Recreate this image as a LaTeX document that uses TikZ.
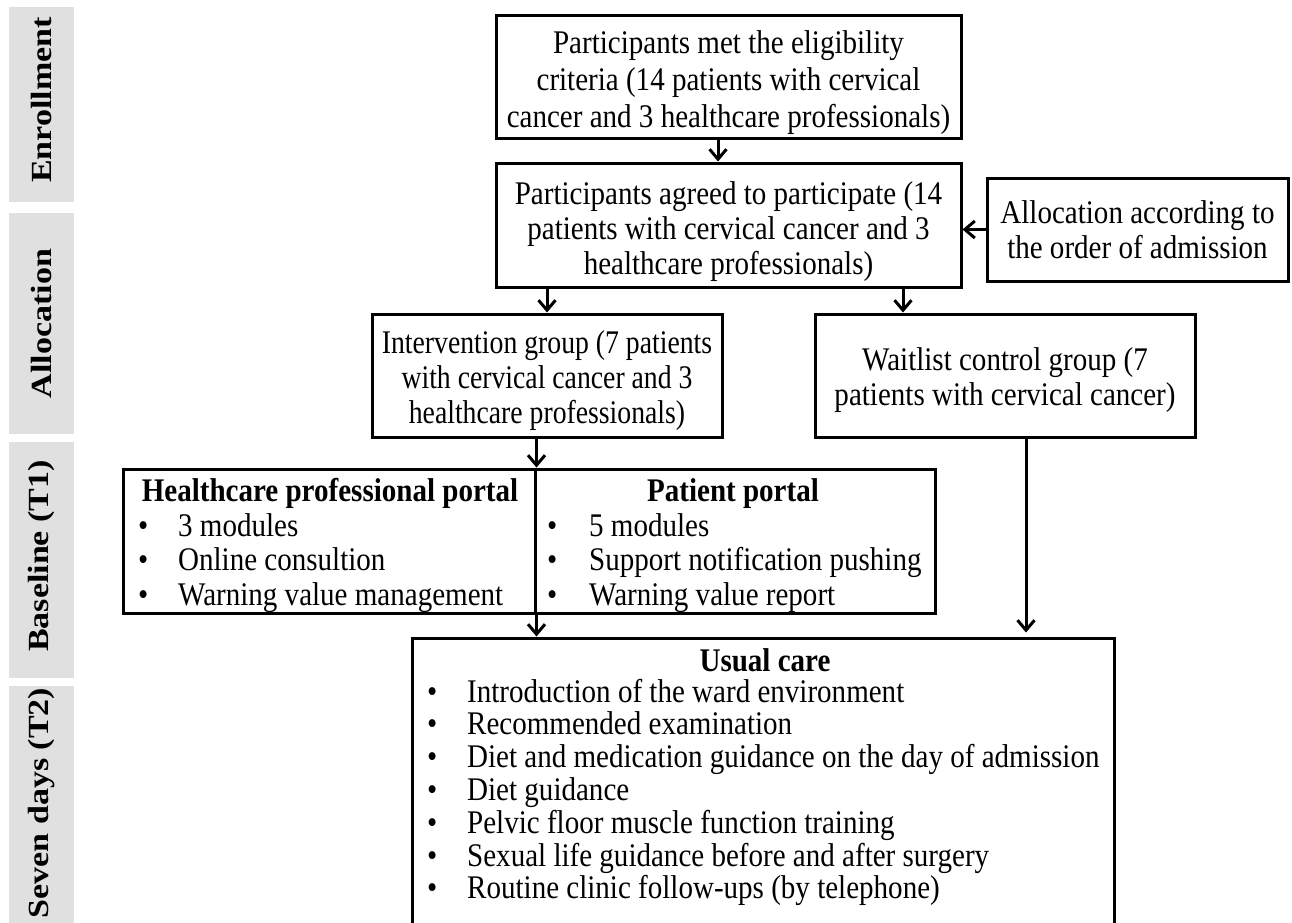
\documentclass[tikz,border=0pt]{standalone}
\usepackage{fontspec}
\usepackage{graphicx}
\setmainfont{Liberation Serif}[FakeStretch=0.88]
\newfontfamily\narrowfont{Liberation Serif}[FakeStretch=0.84]
\newfontfamily\lblfont{Liberation Serif}
\usetikzlibrary{arrows.meta}
\definecolor{bandgray}{RGB}{224,224,224}
\newcommand{\up}[1]{\rule{0pt}{#1}}
\tikzset{
  box/.style={draw, line width=3pt, inner sep=0pt, align=center,
    font=\fontsize{33}{35}\selectfont},
  arr/.style={line width=3pt, -{Straight Barb[length=10pt,width=17pt]}},
  bandlbl/.style={fill=bandgray, draw=none, rotate=90, inner sep=0pt,
    minimum height=65pt, font=\lblfont\bfseries\fontsize{34}{36}\selectfont},
  bandtxt/.style={rotate=90, inner sep=0pt, font=\lblfont\bfseries\fontsize{34}{36}\selectfont},
  txt/.style={font=\fontsize{33}{35}\selectfont, inner sep=0pt, anchor=base west},
  head/.style={font=\bfseries\fontsize{33}{35}\selectfont, inner sep=0pt, anchor=base},
}
\begin{document}
\begin{tikzpicture}[x=1pt,y=-1pt]
\useasboundingbox (0,0) rectangle (1292,922);
\clip (0,0) rectangle (1292,922);
\fill[white] (0,0) rectangle (1292,922);

% phase bands
\node[bandlbl, minimum width=195pt] (b1) at (41.5,104.5) {};
\node[bandlbl, minimum width=221pt] (b2) at (41.5,323.5) {};
\node[bandlbl, minimum width=236pt] (b3) at (41.5,560) {};
\node[bandlbl, minimum width=244pt] (b4) at (41.5,808) {};
\node[bandtxt] (t1) at (41.5,100) {\scalebox{1}[0.86]{Enrollment}};
\node[bandtxt] (t2) at (41.5,323.5) {\scalebox{1}[0.86]{Allocation}};
\node[bandtxt] (t3) at (41.5,556) {\scalebox{1}[0.86]{Baseline (T1)}};
\node[bandtxt] (t4) at (41.5,803) {\scalebox{1}[0.86]{Seven days (T2)}};

% boxes
\node[box, minimum width=465pt, minimum height=123pt, font=\fontsize{33}{37}\selectfont] (top) at (728.5,76.5)
  {\up{36pt}Participants met the eligibility\\criteria (14 patients with cervical\\cancer and 3 healthcare professionals)};
\node[box, minimum width=465pt, minimum height=124pt] (ag) at (728.5,225)
  {\up{36pt}Participants agreed to participate (14\\patients with cervical cancer and 3\\healthcare professionals)};
\node[box, minimum width=301pt, minimum height=103pt] (al) at (1137.5,229.5)
  {Allocation according to\\the order of admission};
\node[box, minimum width=350pt, minimum height=123pt, font=\narrowfont\fontsize{33}{35}\selectfont] (iv) at (547,375.5)
  {\up{33pt}Intervention group (7 patients\\with cervical cancer and 3\\healthcare professionals)};
\node[box, minimum width=380pt, minimum height=123pt] (wl) at (1005,375.5)
  {\up{32pt}Waitlist control group (7\\patients with cervical cancer)};
\node[box, minimum width=412pt, minimum height=144pt] (hpp) at (329,541) {};
\node[box, minimum width=400pt, minimum height=144pt] (pp) at (735,541) {};
\node[box, minimum width=702pt, minimum height=312pt] (uc) at (763,794) {};

% portal texts
\node[head] (hhead) at (330,501) {Healthcare professional portal};
\foreach \t [count=\i] in {3 modules, Online consultion, Warning value management}
  \node[txt] (h\i) at (138,{536+34.5*(\i-1)}) {\makebox[40pt][l]{•}\t};
\node[head] (phead) at (733,501) {Patient portal};
\foreach \t [count=\i] in {5 modules, Support notification pushing, Warning value report}
  \node[txt] (p\i) at (547,{536+34.5*(\i-1)}) {\makebox[42pt][l]{•}\t};

% usual care texts
\node[head] (uhead) at (765,671) {Usual care};
\foreach \t [count=\i] in {Introduction of the ward environment, Recommended examination,
  Diet and medication guidance on the day of admission, Diet guidance,
  Pelvic floor muscle function training, Sexual life guidance before and after surgery,
  Routine clinic follow-ups (by telephone)}
  \node[txt] (u\i) at (427,{702+32.8*(\i-1)}) {\makebox[40pt][l]{•}\t};

% connectors
\coordinate (c1) at (718,0);
\coordinate (c2) at (903,0);
\coordinate (c3) at (1026,0);
\draw[arr] (top.south -| c1) -- (ag.north -| c1);
\draw[arr] (al.west) -- (al.west -| ag.east);
\draw[arr] (ag.south -| iv.north) -- (iv.north);
\draw[arr] (ag.south -| c2) -- (wl.north -| c2);
\draw[arr] (iv.south -| hpp.north east) -- (hpp.north east);
\draw[arr] (hpp.south east) -- (hpp.south east |- uc.north);
\draw[arr, shorten >=4pt] (wl.south -| c3) -- (uc.north -| c3);
\end{tikzpicture}
\end{document}
